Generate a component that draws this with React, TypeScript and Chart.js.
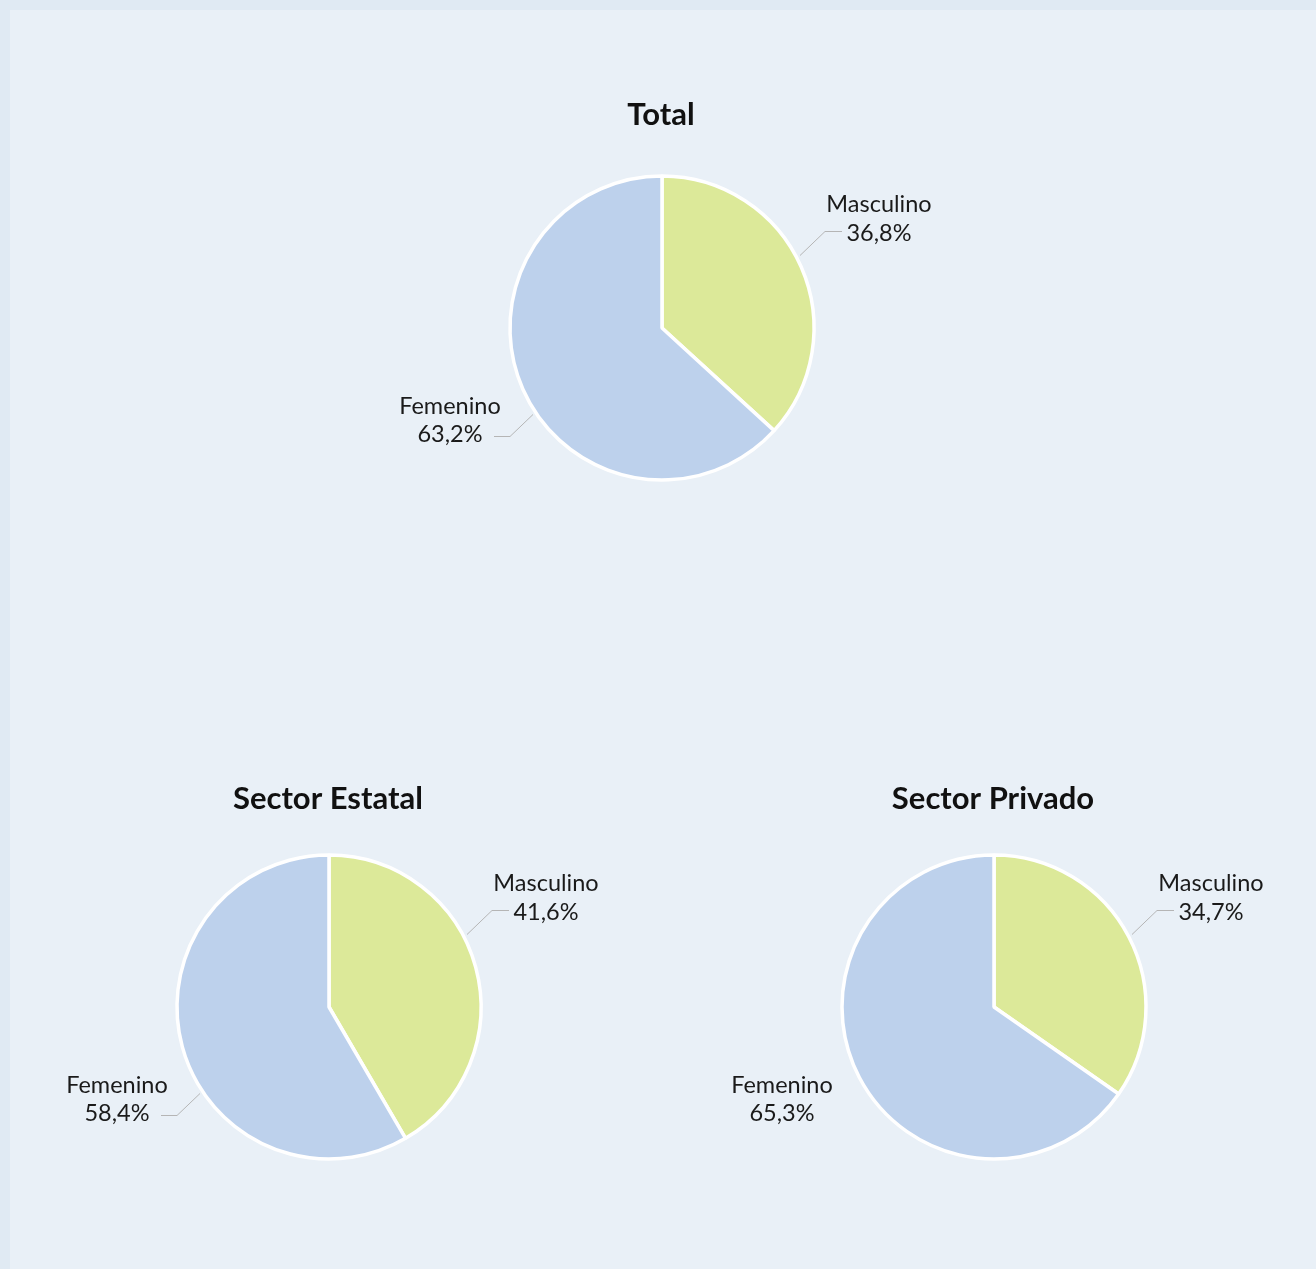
import React, { useEffect, useRef } from "react";
import { Chart, registerables } from "chart.js";

Chart.register(...registerables);

const categories = ["Masculino", "Femenino"];
const totalValues = [36.8, 63.2];
const estatalValues = [41.6, 58.4];
const privadoValues = [34.7, 65.3];
const chartTitles = ["Total", "Sector Estatal", "Sector Privado"];
const sliceColors = ["#dce999", "#bdd1ec"];

const fmt = (v: number) => v.toFixed(1).replace(".", ",") + "%";

const labelPlugin = {
  id: "pieLabels",
  afterDraw(chart: any, _args: any, opts: any) {
    const ctx = chart.ctx;
    const arc = chart.getDatasetMeta(0).data[0];
    if (!arc) return;
    const cx = arc.x;
    const cy = arc.y;
    const ds = chart.data.datasets[0];
    const labels = chart.data.labels;
    ctx.save();
    // title
    ctx.fillStyle = "#111";
    ctx.font = "bold 31px Lato";
    ctx.textAlign = "center";
    ctx.textBaseline = "middle";
    ctx.fillText(opts.title, cx - 1, cy + opts.titleDy);
    // labels
    ctx.font = "23.5px Lato";
    ctx.fillStyle = "#1a1a1a";
    const sides = [
      { tx: 217, ny: -124, py: -95, line: [[138, -73], [163, -97], [180, -97]] },
      { tx: -212, ny: 78, py: 106, line: [[-129, 86], [-152, 108], [-168, 108]] },
    ];
    for (let i = 0; i < labels.length; i++) {
      const s = sides[i];
      ctx.fillText(labels[i], cx + s.tx, cy + s.ny);
      ctx.fillText(fmt(ds.data[i]), cx + s.tx, cy + s.py);
      if (opts.connectors[i]) {
        ctx.strokeStyle = "#b5b5b5";
        ctx.lineWidth = 1;
        ctx.beginPath();
        s.line.forEach((p: number[], k: number) => {
          if (k === 0) ctx.moveTo(cx + p[0], cy + p[1] + 0.5);
          else ctx.lineTo(cx + p[0], cy + p[1] + 0.5);
        });
        ctx.stroke();
      }
    }
    ctx.restore();
  },
};

function PieChart({ values, title, titleDy, connectors, left, top }: any) {
  const ref = useRef<HTMLCanvasElement>(null);
  useEffect(() => {
    const chart = new Chart(ref.current as HTMLCanvasElement, {
      type: "pie",
      data: {
        labels: categories,
        datasets: [
          {
            data: values,
            backgroundColor: sliceColors,
            borderColor: "#ffffff",
            borderWidth: 3.5,
            radius: 152,
          } as any,
        ],
      },
      options: {
        animation: false,
        responsive: false,
        layout: { padding: { left: 160, right: 160, top: 120, bottom: 80 } },
        plugins: {
          legend: { display: false },
          tooltip: { enabled: false },
          title: { display: false },
          pieLabels: { title, titleDy, connectors },
        } as any,
      },
      plugins: [labelPlugin],
    });
    return () => chart.destroy();
  }, []);
  return (
    <canvas
      ref={ref}
      width={640}
      height={520}
      style={{ position: "absolute", left, top, width: 640, height: 520 }}
    />
  );
}

export default function App() {
  return (
    <div
      style={{
        position: "absolute",
        left: 0,
        top: 0,
        width: 1316,
        height: 1269,
        background: "#e0eaf3",
        overflow: "hidden",
      }}
    >
      <div
        style={{
          position: "absolute",
          left: 10,
          top: 10,
          width: 1306,
          height: 1259,
          background: "#e9f0f7",
        }}
      />
      <PieChart values={totalValues} title={chartTitles[0]} titleDy={-213} connectors={[true, true]} left={342} top={48} />
      <PieChart values={estatalValues} title={chartTitles[1]} titleDy={-208} connectors={[true, true]} left={9} top={727} />
      <PieChart values={privadoValues} title={chartTitles[2]} titleDy={-208} connectors={[true, false]} left={674} top={727} />
    </div>
  );
}
